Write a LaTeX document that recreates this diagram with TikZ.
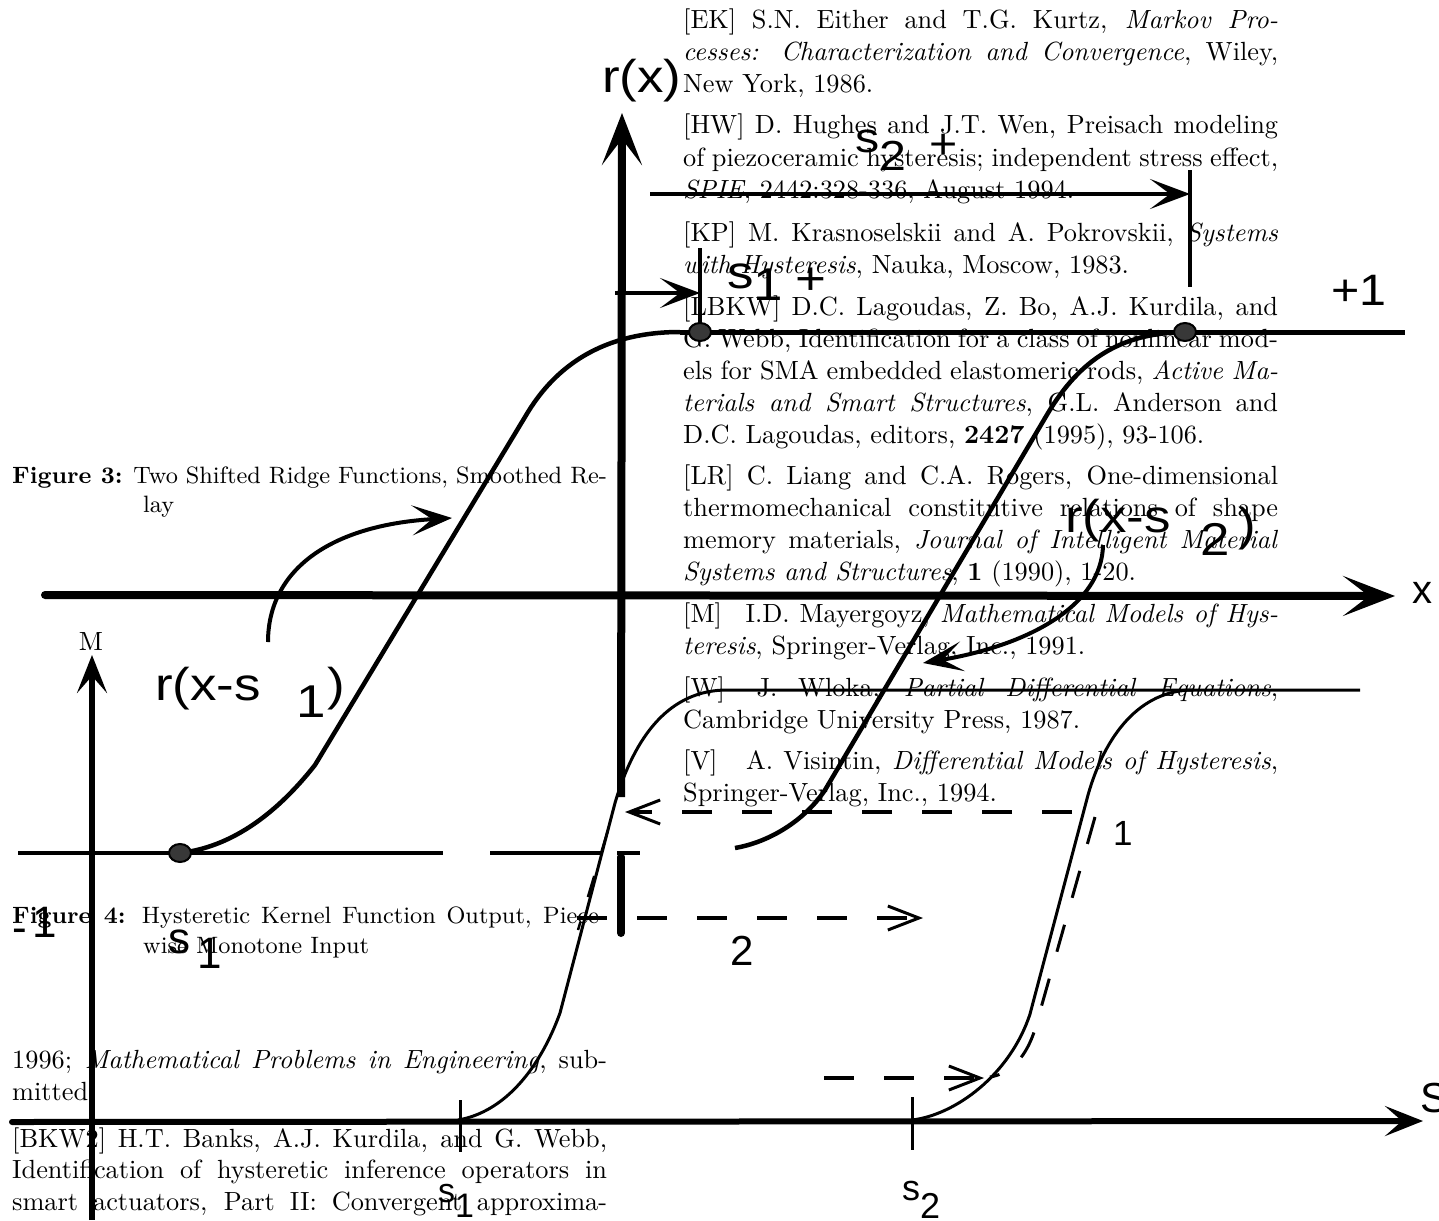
\documentclass[tikz,border=0pt]{standalone}
\usepackage{fontspec}
\usepackage{graphicx}
\usetikzlibrary{arrows.meta}
\newfontfamily\hv{Liberation Sans}
\newcommand\SC{2.63}
\newlength\colw
\setlength\colw{226.2pt}
\newcommand\jline[1]{\scalebox{\SC}{\makebox[\colw][s]{#1}}}
\newcommand\nline[1]{\scalebox{\SC}{#1}}
\newcommand\jlines[1]{\scalebox{\SC}{\small\makebox[\colw][s]{#1}}}
\newcommand\nlines[1]{\scalebox{\SC}{\small #1}}
\newcommand\hsz[1]{\fontsize{#1}{#1}\selectfont}
\newcommand\wide[1]{\scalebox{1.15}[1]{#1}}
\newcommand\blab[1]{\makebox[20pt][l]{#1}}
\tikzset{
  txt/.style={inner sep=0pt, anchor=base west},
  lab/.style={inner sep=0pt, anchor=base west, font=\hv},
  axA/.style={line width=8pt, -{Stealth[length=52pt,width=40pt,inset=26pt]}},
  arA/.style={line width=4pt, -{Stealth[length=40pt,width=30pt,inset=20pt]}},
  crvA/.style={line width=4.5pt},
  axB/.style={line width=6pt, -{Stealth[length=38pt,width=30pt,inset=17pt]}},
  crvB/.style={line width=3pt},
  dsh/.style={line width=4pt, dash pattern=on 30pt off 30pt},
  barbB/.style={-{Straight Barb[length=31pt,width=24pt,line width=3pt]}},
  dotA/.style={fill=black!78, draw=black, line width=2pt},
}
\begin{document}
\begin{tikzpicture}[x=1pt,y=-1pt]
\useasboundingbox (0,0) rectangle (1439,1220);
\fill[white] (0,0) rectangle (1439,1220);

% ---------------- right column text ----------------
\node[txt] (t1) at (683,29) {\jline{[EK] S.N. Either and T.G. Kurtz, \textit{Markov Pro-}}};
\node[txt] (t2) at (683,61) {\jline{\textit{cesses: Characterization and Convergence}, Wiley,}};
\node[txt] (t3) at (683,93) {\nline{New York, 1986.}};
\node[txt] (t4) at (683,134) {\jline{[HW] D. Hughes and J.T. Wen, Preisach modeling}};
\node[txt] (t5) at (683,166) {\jline{of piezoceramic hysteresis; independent stress effect,}};
\node[txt] (t6) at (683,198) {\nline{\textit{SPIE}, 2442:328-336, August 1994.}};
\node[txt] (t7) at (683,241) {\jline{[KP] M. Krasnoselskii and A. Pokrovskii, \textit{Systems}}};
\node[txt] (t8) at (683,273) {\nline{\textit{with Hysteresis}, Nauka, Moscow, 1983.}};
\node[txt] (t9) at (683,315) {\jline{[LBKW] D.C. Lagoudas, Z. Bo, A.J. Kurdila, and}};
\node[txt] (t10) at (683,347) {\jline{G. Webb, Identification for a class of nonlinear mod-}};
\node[txt] (t11) at (683,379) {\jline{els for SMA embedded elastomeric rods, \textit{Active Ma-}}};
\node[txt] (t12) at (683,411) {\jline{\textit{terials and Smart Structures}, G.L. Anderson and}};
\node[txt] (t13) at (683,443) {\nline{D.C. Lagoudas, editors, \textbf{2427} (1995), 93-106.}};
\node[txt] (t14) at (683,484) {\jline{[LR] C. Liang and C.A. Rogers, One-dimensional}};
\node[txt] (t15) at (683,516) {\jline{thermomechanical constitutive relations of shape}};
\node[txt] (t16) at (683,548) {\jline{memory materials, \textit{Journal of Intelligent Material}}};
\node[txt] (t17) at (683,580) {\nline{\textit{Systems and Structures}, \textbf{1} (1990), 1-20.}};
\node[txt] (t18) at (683,622) {\jline{\blab{[M]} I.D. Mayergoyz, \textit{Mathematical Models of Hys-}}};
\node[txt] (t19) at (683,654) {\nline{\textit{teresis}, Springer-Verlag, Inc., 1991.}};
\node[txt] (t20) at (683,696) {\jline{\blab{[W]} J. Wloka, \textit{Partial Differential Equations},}};
\node[txt] (t21) at (683,728) {\nline{Cambridge University Press, 1987.}};
\node[txt] (t22) at (683,769) {\jline{\blab{[V]} A. Visintin, \textit{Differential Models of Hysteresis},}};
\node[txt] (t23) at (683,801) {\nline{Springer-Verlag, Inc., 1994.}};

% ---------------- left column text ----------------
\node[txt] (c1) at (12,483) {\jlines{\textbf{Figure 3:} Two Shifted Ridge Functions, Smoothed Re-}};
\node[txt] (c2) at (143,512) {\nlines{lay}};
\node[txt] (c3) at (12,923) {\jlines{\textbf{Figure 4:} Hysteretic Kernel Function Output, Piece-}};
\node[txt] (c4) at (143,953) {\nlines{wise Monotone Input}};
\node[txt] (b1) at (12,1068) {\jline{1996; \textit{Mathematical Problems in Engineering}, sub-}};
\node[txt] (b2) at (12,1100) {\nline{mitted}};
\node[txt] (b3) at (12,1147) {\jline{[BKW2] H.T. Banks, A.J. Kurdila, and G. Webb,}};
\node[txt] (b4) at (12,1178) {\jline{Identification of hysteretic inference operators in}};
\node[txt] (b5) at (12,1210) {\jline{smart actuators, Part II: Convergent approxima-}};

% ---------------- Figure A: ridge functions ----------------
\coordinate (xa0) at (45,595);
\coordinate (xa1) at (1395,596);
\draw[axA, line cap=round] (xa0) -- (xa1);
\coordinate (ya0) at (621,797);
\coordinate (ya1) at (622,113);
\draw[axA] (ya0) -- (ya1);
\coordinate (yb0) at (621,933);
\coordinate (yb1) at (621,857);
\draw[line width=8pt, line cap=round] (yb0) -- (yb1);

% -1 level and +1 level
\coordinate (m0) at (18,853);   \coordinate (m1) at (443,853);
\coordinate (m2) at (490,853);  \coordinate (m3) at (602,853);
\coordinate (m4) at (617,853);  \coordinate (m5) at (640,853);
\draw[line width=4.5pt] (m0) -- (m1) (m2) -- (m3) (m4) -- (m5);
\coordinate (p0) at (680,332);  \coordinate (p1) at (1405,332);
\draw[line width=5pt] (p0) -- (p1);

% ticks and shift arrows
\coordinate (k1a) at (700,248); \coordinate (k1b) at (700,332);
\coordinate (k2a) at (1190,170); \coordinate (k2b) at (1190,287);
\draw[line width=4pt] (k1a) -- (k1b) (k2a) -- (k2b);
\coordinate (s1a) at (615,293); \coordinate (s1b) at (700,293);
\draw[arA] (s1a) -- (s1b);
\coordinate (s2a) at (650,194); \coordinate (s2b) at (1190,194);
\draw[arA] (s2a) -- (s2b);

% ridge r(x-s1)
\coordinate (d1) at (180,853);
\coordinate (r1a) at (315,765);
\coordinate (r1b) at (528,412);
\coordinate (d2) at (700,332);
\draw[crvA] (d1) .. controls (240,846) and (285,803) .. (r1a) -- (r1b)
   .. controls (560,360) and (610,332) .. (680,332);
% ridge r(x-s2)
\coordinate (r2s) at (735,848);
\coordinate (r2a) at (825,790);
\coordinate (r2b) at (1048,413);
\coordinate (d3) at (1185,332);
\draw[crvA] (r2s) .. controls (770,842) and (805,820) .. (r2a) -- (r2b)
   .. controls (1080,360) and (1120,333) .. (d3);

% dots
\filldraw[dotA] (d1) ellipse [x radius=11, y radius=9];
\filldraw[dotA] (d2) ellipse [x radius=11, y radius=9];
\filldraw[dotA] (d3) ellipse [x radius=11, y radius=9];

% label arrows
\coordinate (la0) at (268,642); \coordinate (la1) at (452,518);
\draw[arA] (la0) .. controls (268,570) and (330,525) .. (la1);
\coordinate (lb0) at (1103,545); \coordinate (lb1) at (923,663);
\draw[arA] (lb0) .. controls (1102,605) and (1030,645) .. (lb1);

% ---------------- Figure B: hysteretic kernel ----------------
\coordinate (M0) at (92,1220); \coordinate (M1) at (92,655);
\draw[axB] (M0) -- (M1);
\coordinate (S0) at (12,1122); \coordinate (S1) at (1423,1121);
\draw[axB, line cap=round] (S0) -- (S1);
\coordinate (q1a) at (460,1100); \coordinate (q1b) at (460,1152);
\coordinate (q2a) at (912,1097); \coordinate (q2b) at (912,1150);
\draw[line width=3pt] (q1a) -- (q1b) (q2a) -- (q2b);

% ascending branch from s1
\coordinate (u1a) at (560,1013);
\coordinate (u1b) at (615,803);
\coordinate (top0) at (727,690);
\coordinate (top1) at (1360,690);
\draw[crvB] (458,1120) .. controls (505,1112) and (540,1068) .. (u1a) -- (u1b)
   .. controls (635,735) and (670,690) .. (top0) -- (top1);
% ascending branch from s2
\coordinate (u2a) at (1030,1014);
\coordinate (u2b) at (1088,795);
\coordinate (u2c) at (1193,690);
\draw[crvB] (912,1120) .. controls (955,1115) and (1010,1075) .. (u2a) -- (u2b)
   .. controls (1105,735) and (1140,690) .. (u2c);
% dashed branch near s2
\coordinate (v0) at (1095,817);
\coordinate (v1) at (1037,1022);
\coordinate (v2) at (990,1077);
\draw[line width=3pt, dash pattern=on 28pt off 28pt] (v0) -- (v1) .. controls (1030,1050) and (1015,1073) .. (v2);
% dashed piece near s1
\coordinate (w0) at (608,830); \coordinate (w1) at (578,930);
\draw[line width=2.5pt, dash pattern=on 22pt off 26pt] (w0) -- (w1);

% dashed arrows
\coordinate (h1a) at (1072,812); \coordinate (h1b) at (625,812);
\draw[dsh, barbB] (h1a) -- (h1b);
\coordinate (h2a) at (577,918); \coordinate (h2b) at (923,918);
\draw[dsh, barbB] (h2a) -- (h2b);
\coordinate (h3a) at (824,1078); \coordinate (h3b) at (984,1078);
\draw[dsh, barbB] (h3a) -- (h3b);

% ---------------- labels ----------------
\node[lab] (Lrx) at (602,93) {\wide{\hsz{46}r(x)}};
\node[lab] (Ls2) at (855,152) {\wide{\hsz{42}s\raisebox{-18pt}{2}\kern20pt\raisebox{-6pt}{+}}};
\node[lab] (Ls1) at (727,288) {\wide{\hsz{46}s\raisebox{-12pt}{1}\kern11pt\raisebox{-6pt}{+}}};
\node[lab] (Lp1) at (1331,305) {\scalebox{1.1}[1]{\hsz{44}+1}};
\node[lab] (Lx) at (1412,603) {\hsz{40}x};
\node[lab] (Lr1) at (155,700) {\wide{\hsz{46}r(x-s\kern31pt\raisebox{-17pt}{1}\kern1pt)}};
\node[lab] (Lr2) at (1065,532) {\wide{\hsz{46}r(x-s\kern26pt\raisebox{-23pt}{2}\kern7pt\raisebox{-8pt}{)}}};
\node[lab] (LS) at (1420,1112) {\hsz{42}S};
\node[lab] (Lb1) at (438,1202) {\hsz{34}s\raisebox{-15pt}{1}};
\node[lab] (Lb2) at (902,1200) {\hsz{36}s\raisebox{-18pt}{2}};
\node[lab] (Lo1) at (1113,845) {\hsz{35}1};
\node[lab] (Lo2) at (730,965) {\hsz{42}2};
\node[lab] (Lls) at (168,953) {\hsz{44}s\kern7pt\raisebox{-15pt}{1}};
\node[lab] (Ll1) at (12,937) {\hsz{44}\raisebox{-5pt}{-}\kern6pt 1};
\node[inner sep=0pt, anchor=base] (LM) at (91,650) {\scalebox{\SC}{M}};
\end{tikzpicture}
\end{document}
